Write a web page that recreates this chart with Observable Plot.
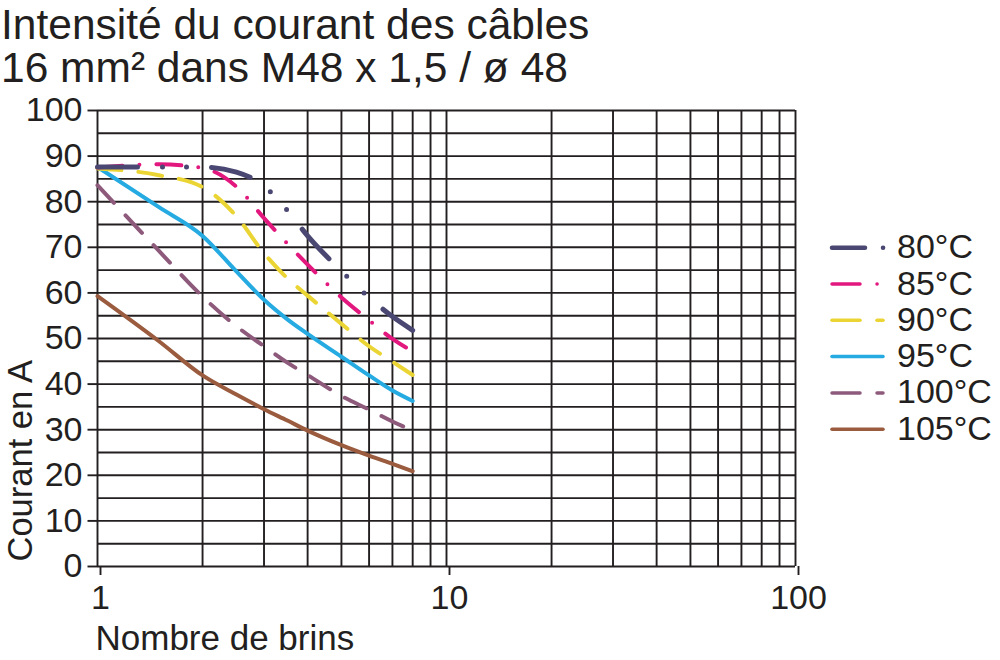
<!DOCTYPE html>
<html><head><meta charset="utf-8">
<script src="https://cdn.jsdelivr.net/npm/d3@7"></script>
<script src="https://cdn.jsdelivr.net/npm/@observablehq/plot@0.6"></script>
<style>
body{margin:0;background:#fff;}
#wrap{position:relative;width:1000px;height:660px;overflow:hidden;font-family:"Liberation Sans",Arial,sans-serif;color:#231f20;}
#chart{position:absolute;left:0;top:92px;}
#overlay{position:absolute;left:0;top:0;pointer-events:none;}
</style></head><body>
<div id="wrap"><div id="chart"></div><svg id="overlay" width="1000" height="660"></svg></div>
<script>
// ---- data ----
const brins = [1, 1.5, 2, 2.5, 3, 3.5, 4, 5, 6, 7, 8];
const temps = ["80°C", "85°C", "90°C", "95°C", "100°C", "105°C"];
const c80  = [87.6, 87.6, 87.6, 86.5, 83.4, 78.1, 72.5, 64.8, 59.0, 54.8, 51.8];
const c85  = [87.5, 88.2, 87.4, 83.3, 76.4, 70.8, 66.2, 59.0, 54.0, 49.9, 47.2];
const c90  = [87.3, 85.8, 83.2, 76.8, 68.7, 63.2, 59.4, 53.2, 48.3, 44.9, 42.0];
const c95  = [87.6, 78.8, 72.5, 64.7, 58.5, 54.2, 51.0, 46.0, 41.9, 38.6, 36.3];
const c100 = [83.6, 69.2, 59.2, 52.7, 48.3, 44.7, 42.0, 37.4, 34.4, 31.8, 29.8];
const c105 = [59.3, 49.4, 41.9, 37.7, 34.5, 32.0, 29.8, 26.6, 24.3, 22.5, 20.9];
const xTicks = [1, 10, 100];
const yTicks = [0, 10, 20, 30, 40, 50, 60, 70, 80, 90, 100];
const xGrid = [1, 2, 3, 4, 5, 6, 7, 8, 9, 10, 20, 30, 40, 50, 60, 70, 80, 90, 100];
const yGrid = [0, 5, 10, 15, 20, 25, 30, 35, 40, 45, 50, 55, 60, 65, 70, 75, 80, 85, 90, 95, 100];
const titleLines = ["Intensité du courant des câbles", "16 mm² dans M48 x 1,5 / ø 48"];
const xLabel = "Nombre de brins";
const yLabel = "Courant en A";

// ---- styles ----
const ink = "#231f20";
const font = '"Liberation Sans", Arial, sans-serif';
const colors = ["#4a4872", "#e2187f", "#ebd534", "#25aae1", "#8d5a7b", "#9a5b3e"];
const widths = [5, 4, 4, 4, 4, 4];
const dashes = ["40 25 0 24 0 25", "25 17 0 17", "24 17", null, "24 17", null];
const legendSegs = [
  [[832, 865], [883, 883.1]],
  [[832, 860], [877, 877.1]],
  [[832, 860], [877, 883]],
  [[832, 883]],
  [[832, 860], [877, 883]],
  [[832, 883]]
];

const valueSets = [c80, c85, c90, c95, c100, c105];
const rows = temps.flatMap((t, k) => brins.map((b, i) => ({brins: b, courant: valueSets[k][i], temp: t})));

const lineMarks = temps.map((t, k) => ({t, k})).reverse().map(({t, k}) =>
  Plot.line(rows.filter(r => r.temp === t), {
    x: "brins", y: "courant", stroke: colors[k], strokeWidth: widths[k],
    strokeDasharray: dashes[k] || undefined, strokeLinecap: "round", strokeLinejoin: "round",
    curve: "monotone-x"
  })
);

const chart = Plot.plot({
  width: 1000, height: 568,
  marginLeft: 97, marginRight: 205, marginTop: 18, marginBottom: 94,
  style: {fontFamily: font, fontSize: "34px", color: ink, background: "transparent", overflow: "visible"},
  x: {type: "log", domain: [1, 100]},
  y: {domain: [0, 100]},
  marks: [
    Plot.ruleX(xGrid, {stroke: ink, strokeWidth: 1.9}),
    Plot.ruleY(yGrid, {stroke: ink, strokeWidth: 1.9}),
    Plot.axisX({ticks: xTicks, tickFormat: d => String(d), tickSize: 9, tickPadding: 9, fontSize: 34, label: null, stroke: ink, strokeWidth: 1.9, dx: 3}),
    Plot.axisY({ticks: yTicks, tickFormat: d => String(d), tickSize: 9.5, tickPadding: 5.5, fontSize: 34, label: null, stroke: ink, strokeWidth: 1.9}),
    ...lineMarks
  ]
});
document.getElementById("chart").appendChild(chart);

// ---- overlay texts and legend ----
const ov = d3.select("#overlay").style("font-family", font).attr("fill", ink);
ov.selectAll("text.title").data(titleLines).join("text").attr("class", "title")
  .attr("x", 1).attr("y", (d, i) => 38.5 + i * 43).attr("font-size", 42.5).text(d => d);
ov.append("text").attr("x", 95.5).attr("y", 650).attr("font-size", 35).text(xLabel);
ov.append("text").attr("transform", "translate(31.5,460.8) rotate(-90)").attr("text-anchor", "middle")
  .attr("font-size", 34.5).text(yLabel);

const lg = ov.append("g");
temps.forEach((t, k) => {
  const yy = 247.7 + k * 36.3;
  legendSegs[k].forEach(([a, b]) => {
    lg.append("line").attr("x1", a).attr("x2", b).attr("y1", yy).attr("y2", yy)
      .attr("stroke", colors[k]).attr("stroke-width", widths[k] - 0.5).attr("stroke-linecap", "round");
  });
  lg.append("text").attr("x", 897).attr("y", yy + 10.5).attr("font-size", 34).text(t);
});
</script>
</body></html>
